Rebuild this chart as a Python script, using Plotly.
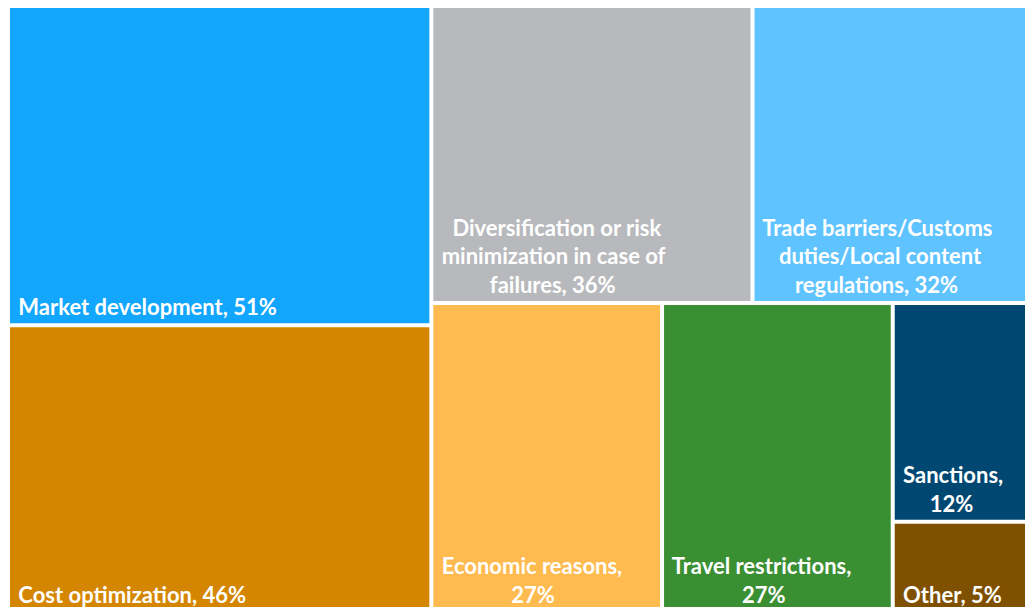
import plotly.graph_objects as go

NB = "\u00a0"
IND = NB * 1  # small extra inset from the cell's left edge

labels = ["Market development", "Cost optimization",
          "Diversification or risk minimization in case of failures",
          "Trade barriers/Customs duties/Local content regulations",
          "Economic reasons", "Travel restrictions", "Sanctions", "Other"]
values = [51, 46, 36, 32, 27, 27, 12, 5]
# text lines of each label (leading non-breaking spaces centre the shorter lines)
display_lines = [
    ["Market development, 51%"],
    ["Cost optimization, 46%"],
    [NB * 2 + "Diversification or risk", "minimization in case of", NB * 9 + "failures, 36%"],
    ["Trade barriers/Customs", NB * 3 + "duties/Local content", NB * 6 + "regulations, 32%"],
    ["Economic reasons,", NB * 13 + "27%"],
    ["Travel restrictions,", NB * 13 + "27%"],
    ["Sanctions,", NB * 5 + "12%"],
    ["Other, 5%"],
]
colors = ["#12A6FE", "#D48600", "#B8B9BD", "#5FC3FF", "#FFBB4F", "#3A8F33", "#004872", "#7F5000"]

# invisible layout containers
tree = {
    "all": ["L", "R"],
    "L": ["Market development", "Cost optimization"],
    "R": ["RT", "RB"],
    "RT": ["Diversification or risk minimization in case of failures",
           "Trade barriers/Customs duties/Local content regulations"],
    "RB": ["Economic reasons", "Travel restrictions", "SO"],
    "SO": ["Sanctions", "Other"],
}

leaf_val = dict(zip(labels, values))
leaf_txt = dict(zip(labels, ["<br>".join(IND + s for s in l) for l in display_lines]))
leaf_col = dict(zip(labels, colors))

def total(node):
    if node in leaf_val:
        return leaf_val[node]
    return sum(total(c) for c in tree[node])

ids, parents, vals, texts, cols = [], [], [], [], []

def walk(node, parent):
    ids.append(node)
    parents.append(parent)
    vals.append(total(node))
    texts.append(leaf_txt.get(node, ""))
    cols.append(leaf_col.get(node, "white"))
    for c in tree.get(node, []):
        walk(c, node)

walk("all", "")

fig = go.Figure(go.Treemap(
    ids=ids, labels=ids, parents=parents, values=vals,
    branchvalues="total", sort=False,
    text=texts, textinfo="text",
    textposition="bottom left",
    textfont=dict(family="Lato", size=22, color="white", weight="bold"),
    marker=dict(colors=cols, line=dict(width=0), pad=dict(t=0, l=0, r=0, b=0)),
    tiling=dict(packing="slice-dice", pad=4),
    pathbar=dict(visible=False),
    hoverinfo="skip",
))
# the original chart runs slightly past the right and bottom edges of the view
fig.update_layout(width=1036, height=611, margin=dict(l=10, r=0, t=8, b=0),
                  paper_bgcolor="white")
fig.write_html(
    "out.html",
    config={"displayModeBar": False},
    post_script=("document.body.style.margin='0';"
                 "document.body.style.overflow='hidden';"
                 "document.documentElement.style.overflow='hidden';"),
)
